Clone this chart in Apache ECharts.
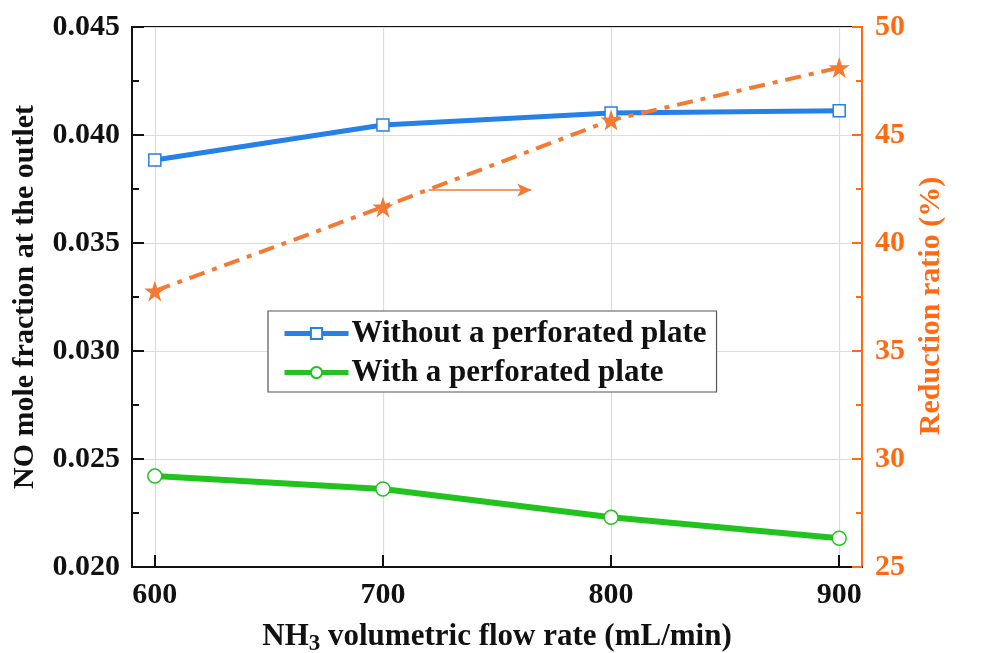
<!DOCTYPE html>
<html>
<head>
<meta charset="utf-8">
<script src="https://cdn.jsdelivr.net/npm/echarts@6/dist/echarts.min.js"></script>
<style>
  html, body { margin: 0; padding: 0; background: #fff; }
  #chart { width: 982px; height: 653px; }
</style>
</head>
<body>
<div id="chart"></div>
<script>
// flow rate of NH3 (mL/min)
var flowRates = [600, 700, 800, 900];
var xTicks = [600, 700, 800, 900];
// NO mole fraction at the outlet
var withoutPlate = [0.03884, 0.04046, 0.04102, 0.04112];
var withPlate = [0.02421, 0.02361, 0.02230, 0.02133];
// reduction ratio (%)
var reduction = [37.78, 41.67, 45.69, 48.12];

var serif = '"Liberation Serif", "Times New Roman", serif';
var blue = '#2580e8';
var green = '#22c31f';
var orange = '#f47a33';
var orangeAxis = '#ff6a13';
var star = 'path://M50,0 L61.8,35.4 L99,35.4 L69,57.3 L80.4,92.7 L50,70.8 L19.6,92.7 L31,57.3 L1,35.4 L38.2,35.4 Z';

function pairs(ys) {
  return flowRates.map(function (x, i) { return [x, ys[i]]; });
}

var myChart = echarts.init(document.getElementById('chart'));

var option = {
  animation: false,
  backgroundColor: '#fff',
  textStyle: { fontFamily: serif, fontWeight: 'bold' },
  grid: {
    left: 132, right: 120, top: 27, bottom: 86,
    outerBoundsMode: 'none',
    containLabel: false,
    show: true, borderColor: '#111', borderWidth: 2, backgroundColor: 'transparent'
  },
  legend: {
    left: 268, top: 311,
    orient: 'vertical',
    backgroundColor: '#fff',
    borderColor: '#555', borderWidth: 1.2,
    padding: [7, 10, 4, 14],
    itemGap: 8,
    itemWidth: 64, itemHeight: 14,
    textStyle: { fontFamily: serif, fontWeight: 'bold', fontSize: 31, color: '#111', padding: [0, 0, 0, -2] },
    data: [
      { name: 'Without a perforated plate', lineStyle: { width: 5 } },
      { name: 'With a perforated plate', lineStyle: { width: 5 } }
    ]
  },
  xAxis: {
    type: 'value',
    min: 590, max: 910,
    name: '{m|NH}{s|3}{m| volumetric flow rate (mL/min)}',
    nameLocation: 'middle',
    nameGap: 50,
    nameTextStyle: {
      rich: {
        m: { fontFamily: serif, fontWeight: 'bold', fontSize: 31, color: '#111' },
        s: { fontFamily: serif, fontWeight: 'bold', fontSize: 23, color: '#111', padding: [16, 0, 0, 0] }
      }
    },
    axisLine: { lineStyle: { color: '#111', width: 2 } },
    axisTick: { inside: true, length: 12, lineStyle: { color: '#111', width: 2 }, customValues: xTicks },
    axisLabel: { customValues: xTicks, margin: 13, fontFamily: serif, fontWeight: 'bold', fontSize: 30, color: '#111' },
    splitLine: { show: true, lineStyle: { color: '#dcdcdc', width: 1.2 } }
  },
  yAxis: [{
    type: 'value',
    min: 0.020, max: 0.045, interval: 0.005,
    name: 'NO mole fraction at the outlet',
    nameLocation: 'middle',
    nameGap: 92,
    nameTextStyle: { fontFamily: serif, fontWeight: 'bold', fontSize: 30, color: '#111' },
    axisLine: { show: true, lineStyle: { color: '#111', width: 2 } },
    axisTick: { inside: true, length: 12, lineStyle: { color: '#111', width: 2 } },
    minorTick: { show: true, splitNumber: 2, length: 7, lineStyle: { color: '#111', width: 2 } },
    axisLabel: {
      margin: 12, fontFamily: serif, fontWeight: 'bold', fontSize: 30, color: '#111',
      formatter: function (v) { return v.toFixed(3); }
    },
    splitLine: { show: true, lineStyle: { color: '#dcdcdc', width: 1.2 } }
  }, {
    type: 'value',
    min: 25, max: 50, interval: 5,
    position: 'right',
    name: 'Reduction ratio (%)',
    nameLocation: 'middle',
    nameGap: 53,
    nameRotate: 90,
    nameTextStyle: { fontFamily: serif, fontWeight: 'bold', fontSize: 30, color: orangeAxis, padding: [0, 18, 0, 0] },
    axisLine: { show: true, lineStyle: { color: orangeAxis, width: 2 } },
    axisTick: { inside: true, length: 10, lineStyle: { color: orangeAxis, width: 2 } },
    minorTick: { show: true, splitNumber: 2, length: 6, lineStyle: { color: orangeAxis, width: 2 } },
    axisLabel: { margin: 13, fontFamily: serif, fontWeight: 'bold', fontSize: 30, color: orangeAxis },
    splitLine: { show: false }
  }],
  series: [{
    name: 'Without a perforated plate',
    type: 'line',
    data: pairs(withoutPlate),
    symbol: 'rect', symbolSize: 12,
    itemStyle: { color: '#fff', borderColor: blue, borderWidth: 1.5 },
    lineStyle: { color: blue, width: 5 },
    z: 3
  }, {
    name: 'With a perforated plate',
    type: 'line',
    data: pairs(withPlate),
    symbol: 'circle', symbolSize: 14,
    itemStyle: { color: '#fff', borderColor: green, borderWidth: 1.5 },
    lineStyle: { color: green, width: 6 },
    z: 3
  }, {
    name: 'Reduction ratio',
    type: 'line',
    yAxisIndex: 1,
    data: pairs(reduction),
    symbol: star, symbolSize: 21,
    itemStyle: { color: orange },
    lineStyle: { color: orange, width: 4, type: [16, 8, 5, 8] },
    z: 4,
    markLine: {
      silent: true,
      symbol: ['none', 'arrow'],
      symbolSize: [10, 14],
      label: { show: false },
      lineStyle: { color: orange, width: 1.5, type: 'solid' },
      data: [[{ coord: [720, 42.45] }, { coord: [765, 42.45] }]]
    }
  }]
};

myChart.setOption(option);
</script>
</body>
</html>
